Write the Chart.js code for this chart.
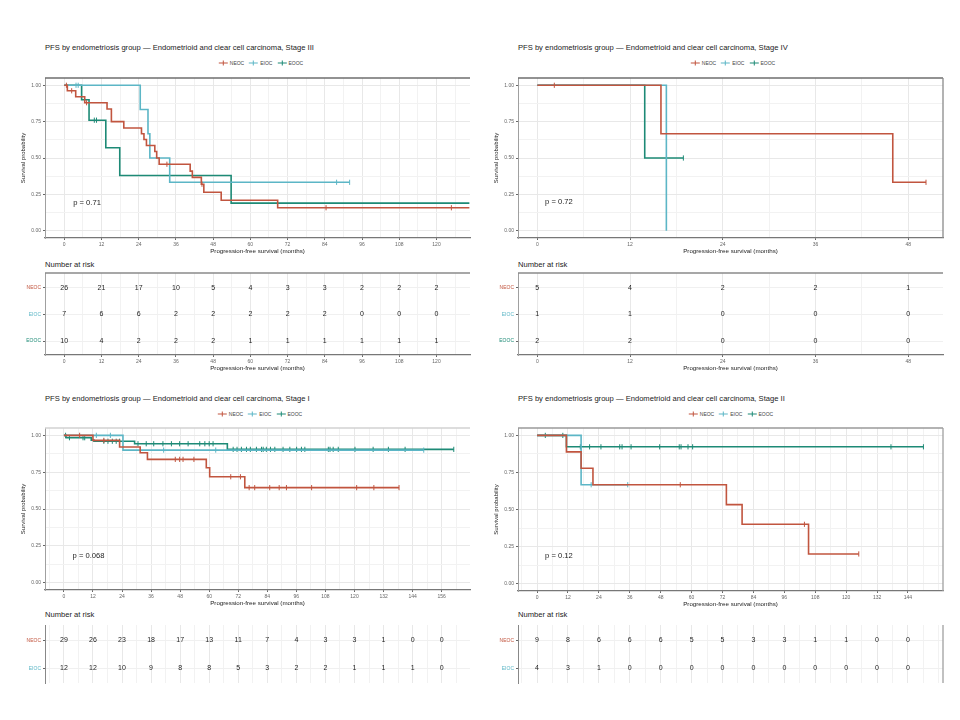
<!DOCTYPE html>
<html>
<head>
<meta charset="utf-8">
<script src="https://cdn.jsdelivr.net/npm/chart.js@4.4.1/dist/chart.umd.min.js"></script>
<style>
  html, body { margin: 0; padding: 0; background: #fff; }
  body { width: 960px; height: 720px; position: relative; overflow: hidden;
         font-family: "Liberation Sans", Arial, sans-serif; }
  .txt { position: absolute; white-space: nowrap; line-height: 1; color: #222; transform: translateY(-50%); }
  .ttl { font-size: 7.6px; }
  .rsk { font-size: 7.6px; }
  .leg { position: absolute; display: flex; gap: 5px; font-size: 5px; color: #444; line-height: 1;
         align-items: center; transform: translate(-50%, -50%); white-space: nowrap; }
  .leg .it { display: flex; align-items: center; gap: 2px; }
  .leg i { position: relative; display: inline-block; width: 9px; height: 1.4px; }
  .leg i:after { content: ""; position: absolute; left: 4px; top: -2px; width: 1px; height: 5.4px; background: inherit; }
  .box { position: absolute; }
</style>
</head>
<body>
<script>
Chart.defaults.font.family = '"Liberation Sans", Arial, sans-serif';
Chart.defaults.animation = false;

// --- groups ---
var groups = ['NEOC', 'EIOC', 'EOOC'];
var groupColors = ['#C1553F', '#5CB6C6', '#1D8A76'];

// --- Stage III : step points [months, survival] and censor times ---
var s3Neoc = [[0,1],[1.0,0.962],[3.7,0.921],[6.6,0.88],[13.8,0.837],[15.2,0.75],[19.2,0.706],[24.9,0.667],
  [25.7,0.627],[26.5,0.586],[29.2,0.545],[29.8,0.5],[30.6,0.457],[40.6,0.41],[41.3,0.367],[44.2,0.32],
  [45.0,0.265],[50.6,0.21],[68.8,0.158],[130.6,0.158]];
var s3NeocCens = [0.7, 2.4, 7.2, 33.1, 44.4, 84.4, 124.8];
var s3Eioc = [[0,1],[24.5,0.833],[27.0,0.667],[27.6,0.5],[34.0,0.333],[92.0,0.333]];
var s3EiocCens = [3.8, 4.5, 87.8, 92.0];
var s3Eooc = [[0,1],[5.6,0.9],[8.0,0.76],[13.4,0.57],[17.9,0.38],[53.8,0.19],[130.6,0.19]];
var s3EoocCens = [9.7, 10.4];
var s3Ticks = [0, 12, 24, 36, 48, 60, 72, 84, 96, 108, 120];
var s3RiskNeoc = [26, 21, 17, 10, 5, 4, 3, 3, 2, 2, 2];
var s3RiskEioc = [7, 6, 6, 2, 2, 2, 2, 2, 0, 0, 0];
var s3RiskEooc = [10, 4, 2, 2, 2, 1, 1, 1, 1, 1, 1];

// --- Stage IV ---
var s4Neoc = [[0,1],[16.0,0.667],[46.0,0.333],[50.3,0.333]];
var s4NeocCens = [2.2, 50.3];
var s4Eioc = [[0,1],[16.7,0]];
var s4EiocCens = [];
var s4Eooc = [[0,1],[13.9,0.5],[18.9,0.5]];
var s4EoocCens = [18.9];
var s4Ticks = [0, 12, 24, 36, 48];
var s4RiskNeoc = [5, 4, 2, 2, 1];
var s4RiskEioc = [1, 1, 0, 0, 0];
var s4RiskEooc = [2, 2, 0, 0, 0];

// --- Stage I ---
var s1Neoc = [[0,1],[12.0,0.966],[23.0,0.921],[31.5,0.882],[34.5,0.837],[58.8,0.78],[60.2,0.719],[74.7,0.645],[138.4,0.645]];
var s1NeocCens = [6.5, 16.5, 46.0, 47.8, 49.2, 53.7, 68.9, 72.9, 76.5, 78.8, 85.0, 88.9, 91.9, 102.3, 120.9, 128.0, 138.4];
var s1Eioc = [[0,1],[24.4,0.9],[148.6,0.9]];
var s1EiocCens = [13.4, 19.2, 41.2, 62.7, 148.6];
var s1Eooc = [[0,1],[0.9,0.984],[11.3,0.968],[12.4,0.96],[29.2,0.943],[67.5,0.905],[161.0,0.905]];
var s1EoocCens = [0.7, 2.3, 7.9, 8.6, 16.5, 18.2, 20.0, 21.6, 23.0, 30.6, 34.0, 37.1, 40.9, 44.4, 47.8, 51.3,
  56.1, 58.2, 60.0, 61.6, 69.9, 71.5, 73.3, 75.4, 77.0, 79.5, 81.6, 82.3, 83.6, 85.3, 87.1, 90.5, 93.3, 96.1,
  98.1, 99.5, 109.2, 109.9, 111.2, 113.3, 120.2, 127.7, 134.0, 140.9, 161.0];
var s1Ticks = [0, 12, 24, 36, 48, 60, 72, 84, 96, 108, 120, 132, 144, 156];
var s1RiskNeoc = [29, 26, 23, 18, 17, 13, 11, 7, 4, 3, 3, 1, 0, 0];
var s1RiskEioc = [12, 12, 10, 9, 8, 8, 5, 3, 2, 2, 1, 1, 1, 0];

// --- Stage II ---
var s2Neoc = [[0,1],[11.4,0.889],[17.1,0.778],[21.7,0.667],[73.5,0.533],[79.6,0.4],[105.4,0.2],[124.9,0.2]];
var s2NeocCens = [55.6, 103.8, 124.9];
var s2Eioc = [[0,1],[17.1,0.667],[35.2,0.667]];
var s2EiocCens = [21.0, 35.2];
var s2Eooc = [[0,1],[11.4,0.923],[150.0,0.923]];
var s2EoocCens = [3.2, 10.0, 16.8, 20.4, 24.8, 32.1, 33.0, 36.5, 47.6, 55.2, 55.9, 58.6, 60.4, 137.4, 150.0];
var s2Ticks = [0, 12, 24, 36, 48, 60, 72, 84, 96, 108, 120, 132, 144];
var s2RiskNeoc = [9, 8, 6, 6, 6, 5, 5, 3, 3, 1, 1, 0, 0];
var s2RiskEioc = [4, 3, 1, 0, 0, 0, 0, 0, 0, 0, 0, 0, 0];

var yTicks = [0, 0.25, 0.5, 0.75, 1];
var titleBase = 'PFS by endometriosis group \u2014 Endometrioid and clear cell carcinoma, Stage ';
var xTitle = 'Progression-free survival (months)';

var panels = [
  { stage: 'III', p: 'p = 0.71', pAt: [2.9, 0.19], ticks: s3Ticks, xMin: -6.2, xMax: 130.8,
    curves: [s3Neoc, s3Eioc, s3Eooc], cens: [s3NeocCens, s3EiocCens, s3EoocCens],
    risk: [s3RiskNeoc, s3RiskEioc, s3RiskEooc],
    box: {l: 0, t: 70, w: 480, h: 190}, area: {l: 45, t: 78, r: 470, b: 238},
    rbox: {l: 0, t: 268, w: 480, h: 105}, rarea: {l: 45, t: 272, r: 470, b: 355},
    legX: 261, legY: 63, titleY: 48, riskY: 265, top: '#6e6e6e', right: null, riskAxis: true },
  { stage: 'IV', p: 'p = 0.72', pAt: [1.0, 0.197], ticks: s4Ticks, xMin: -2.5, xMax: 52.5,
    curves: [s4Neoc, s4Eioc, s4Eooc], cens: [s4NeocCens, s4EiocCens, s4EoocCens],
    risk: [s4RiskNeoc, s4RiskEioc, s4RiskEooc],
    box: {l: 480, t: 70, w: 480, h: 190}, area: {l: 518, t: 78, r: 943, b: 238},
    rbox: {l: 480, t: 268, w: 480, h: 105}, rarea: {l: 518, t: 272, r: 943, b: 355},
    legX: 733, legY: 63, titleY: 48, riskY: 265, top: '#6e6e6e', right: '#8a8a8a', riskAxis: true },
  { stage: 'I', p: 'p = 0.068', pAt: [3.6, 0.184], ticks: s1Ticks, xMin: -7.8, xMax: 167.7,
    curves: [s1Neoc, s1Eioc, s1Eooc], cens: [s1NeocCens, s1EiocCens, s1EoocCens],
    risk: [s1RiskNeoc, s1RiskEioc],
    box: {l: 0, t: 420, w: 480, h: 190}, area: {l: 45, t: 428, r: 470, b: 590},
    rbox: {l: 0, t: 620, w: 480, h: 68}, rarea: {l: 45, t: 623, r: 470, b: 688},
    legX: 260, legY: 414, titleY: 399, riskY: 615, top: '#d2d2d2', right: null, riskAxis: false },
  { stage: 'II', p: 'p = 0.12', pAt: [3.1, 0.19], ticks: s2Ticks, xMin: -7.4, xMax: 157.6,
    curves: [s2Neoc, s2Eioc, s2Eooc], cens: [s2NeocCens, s2EiocCens, s2EoocCens],
    risk: [s2RiskNeoc, s2RiskEioc],
    box: {l: 480, t: 420, w: 480, h: 190}, area: {l: 518, t: 428, r: 943, b: 591},
    rbox: {l: 480, t: 620, w: 480, h: 68}, rarea: {l: 518, t: 623, r: 943, b: 688},
    legX: 731, legY: 414, titleY: 399, riskY: 615, top: '#9a9a9a', right: '#a0a0a0', riskAxis: false }
];

function stepAt(curve, t) {
  var s = curve[0][1];
  curve.forEach(function(pt) { if (pt[0] <= t) s = pt[1]; });
  return s;
}

// major ticks plus the ggplot-style minor breaks half way between them
function withMinor(major, min, max) {
  var half = (major[1] - major[0]) / 2;
  var out = [];
  for (var v = major[0] - half; v <= max + 1e-9; v += half) {
    if (v >= min - 1e-9) out.push(+v.toFixed(4));
  }
  return out;
}

function addText(cls, text, left, top) {
  var d = document.createElement('div');
  d.className = 'txt ' + cls;
  d.textContent = text;
  d.style.left = left + 'px';
  d.style.top = top + 'px';
  document.body.appendChild(d);
}

function addLegend(x, y) {
  var d = document.createElement('div');
  d.className = 'leg';
  d.style.left = x + 'px';
  d.style.top = y + 'px';
  groups.forEach(function(g, i) {
    var it = document.createElement('span');
    it.className = 'it';
    var ic = document.createElement('i');
    ic.style.background = groupColors[i];
    it.appendChild(ic);
    it.appendChild(document.createTextNode(g));
    d.appendChild(it);
  });
  document.body.appendChild(d);
}

function makeCanvas(b) {
  var w = document.createElement('div');
  w.className = 'box';
  w.style.left = b.l + 'px';
  w.style.top = b.t + 'px';
  w.style.width = b.w + 'px';
  w.style.height = b.h + 'px';
  var c = document.createElement('canvas');
  w.appendChild(c);
  document.body.appendChild(w);
  return c;
}

function hline(ctx, x1, x2, y, color, width) {
  ctx.strokeStyle = color; ctx.lineWidth = width;
  ctx.beginPath(); ctx.moveTo(x1, y); ctx.lineTo(x2, y); ctx.stroke();
}
function vline(ctx, x, y1, y2, color, width) {
  ctx.strokeStyle = color; ctx.lineWidth = width;
  ctx.beginPath(); ctx.moveTo(x, y1); ctx.lineTo(x, y2); ctx.stroke();
}

// frame lines, p-value and the at-risk numbers
var decor = {
  id: 'decor',
  afterDatasetsDraw: function(chart, args, o) {
    var ctx = chart.ctx, a = chart.chartArea;
    ctx.save();
    if (o.top) hline(ctx, a.left, a.right, a.top, o.top, 1.3);
    if (o.right) vline(ctx, a.right, a.top, a.bottom, o.right, 1.3);
    if (o.pText) {
      ctx.font = '7.6px "Liberation Sans", Arial, sans-serif';
      ctx.fillStyle = '#222';
      ctx.textAlign = 'left';
      ctx.textBaseline = 'middle';
      ctx.fillText(o.pText, chart.scales.x.getPixelForValue(o.pAt[0]), chart.scales.y.getPixelForValue(o.pAt[1]));
    }
    if (o.counts) {
      ctx.font = '7px "Liberation Sans", Arial, sans-serif';
      ctx.fillStyle = '#222';
      ctx.textAlign = 'center';
      ctx.textBaseline = 'middle';
      chart.data.datasets.forEach(function(ds, i) {
        chart.getDatasetMeta(i).data.forEach(function(el, j) {
          ctx.fillText(String(o.counts[i][j]), el.x, el.y);
        });
      });
    }
    ctx.restore();
  }
};

function xScale(p, showLabels, axisH, titleOff) {
  var all = withMinor(p.ticks, p.xMin, p.xMax);
  return {
    type: 'linear', min: p.xMin, max: p.xMax,
    afterBuildTicks: function(s) { s.ticks = all.map(function(v) { return {value: v}; }); },
    afterFit: function(s) { s.height = axisH; },
    ticks: {
      display: showLabels, autoSkip: false, maxRotation: 0, padding: 2,
      color: '#666', font: {size: 5},
      callback: function(v) { return p.ticks.indexOf(v) >= 0 ? String(v) : ''; }
    },
    grid: {
      drawTicks: showLabels, tickLength: 2,
      color: function(c) { return c.tick && p.ticks.indexOf(c.tick.value) >= 0 ? '#e8e8e8' : '#f2f2f2'; },
      tickColor: function(c) { return c.tick && p.ticks.indexOf(c.tick.value) >= 0 ? '#666' : 'rgba(0,0,0,0)'; }
    },
    border: {display: showLabels, color: '#777', width: 1.2},
    title: {display: showLabels, text: xTitle, color: '#222', font: {size: 6.2},
            padding: {top: 0, bottom: Math.max(0, axisH - titleOff - 3.7)}}
  };
}

panels.forEach(function(p) {
  addText('ttl', titleBase + p.stage, p.area.l, p.titleY);
  addLegend(p.legX, p.legY);
  addText('rsk', 'Number at risk', p.area.l, p.riskY);

  // survival curves
  var datasets = [];
  p.curves.forEach(function(c, i) {
    datasets.push({
      data: c.map(function(pt) { return {x: pt[0], y: pt[1]}; }),
      showLine: true, stepped: 'before', borderColor: groupColors[i], borderWidth: 1.6,
      pointRadius: 0, pointHoverRadius: 0, fill: false
    });
    datasets.push({
      data: p.cens[i].map(function(t) { return {x: t, y: stepAt(c, t)}; }),
      showLine: false, pointStyle: 'line', rotation: 90, pointRadius: 2.6,
      borderColor: groupColors[i], borderWidth: 1
    });
  });

  var yW = p.area.l - p.box.l;
  var xH = p.box.t + p.box.h - p.area.b;
  var yMinor = withMinor(yTicks, -0.05, 1.05);
  new Chart(makeCanvas(p.box), {
    type: 'scatter',
    data: {datasets: datasets},
    plugins: [decor],
    options: {
      responsive: true, maintainAspectRatio: false,
      layout: {autoPadding: false, padding: {left: 0, top: p.area.t - p.box.t, right: p.box.l + p.box.w - p.area.r, bottom: 0}},
      plugins: {legend: {display: false}, tooltip: {enabled: false},
                decor: {top: p.top, right: p.right, pText: p.p, pAt: p.pAt}},
      scales: {
        x: xScale(p, true, xH, 13),
        y: {
          type: 'linear', min: -0.05, max: 1.05,
          afterBuildTicks: function(s) { s.ticks = yMinor.map(function(v) { return {value: v}; }); },
          afterFit: function(s) { s.width = yW; },
          ticks: {autoSkip: false, padding: 2, color: '#666', font: {size: 5},
                  callback: function(v) { return yTicks.indexOf(v) >= 0 ? v.toFixed(2) : ''; }},
          grid: {tickLength: 2,
                 color: function(c) { return c.tick && yTicks.indexOf(c.tick.value) >= 0 ? '#e8e8e8' : '#f2f2f2'; },
                 tickColor: function(c) { return c.tick && yTicks.indexOf(c.tick.value) >= 0 ? '#666' : 'rgba(0,0,0,0)'; }},
          border: {display: true, color: '#a0a0a0', width: 1},
          title: {display: true, text: 'Survival probability', color: '#222', font: {size: 6},
                  padding: {top: Math.max(0, yW - 22 - 3.6), bottom: 0}}
        }
      }
    }
  });

  // number at risk table
  var rows = p.risk.length;
  var rW = p.rarea.l - p.rbox.l;
  var rH = p.rbox.t + p.rbox.h - p.rarea.b;
  var rowIdx = p.risk.map(function(r, i) { return i; });
  var rDatasets = p.risk.map(function(r, i) {
    return {data: p.ticks.map(function(t) { return {x: t, y: i}; }), pointRadius: 0, pointHoverRadius: 0};
  });
  new Chart(makeCanvas(p.rbox), {
    type: 'scatter',
    data: {datasets: rDatasets},
    plugins: [decor],
    options: {
      responsive: true, maintainAspectRatio: false,
      layout: {autoPadding: false, padding: {left: 0, top: p.rarea.t - p.rbox.t, right: p.rbox.l + p.rbox.w - p.rarea.r, bottom: 0}},
      plugins: {legend: {display: false}, tooltip: {enabled: false},
                decor: {top: p.riskAxis ? '#8a8a8a' : null, right: p.riskAxis ? null : p.right, counts: p.risk}},
      scales: {
        x: xScale(p, p.riskAxis, rH, 13),
        y: {
          type: 'linear', reverse: true, min: -0.55, max: rows - 1 + 0.52,
          afterBuildTicks: function(s) { s.ticks = rowIdx.map(function(v) { return {value: v}; }); },
          afterFit: function(s) { s.width = rW; },
          ticks: {autoSkip: false, padding: 2, font: {size: 5},
                  color: function(c) { return groupColors[c.tick ? c.tick.value : 0]; },
                  callback: function(v) { return groups[v]; }},
          grid: {tickLength: 2, color: '#f0f0f0', tickColor: '#666'},
          border: {display: true, color: p.riskAxis ? '#a0a0a0' : '#888', width: 1}
        }
      }
    }
  });
});
</script>
</body>
</html>
